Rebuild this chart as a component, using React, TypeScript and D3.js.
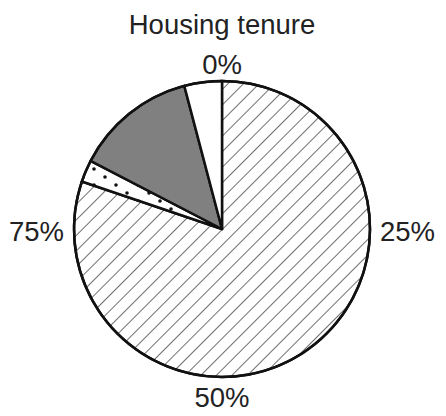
import React, { useRef, useEffect } from 'react';
import * as d3 from 'd3';

// slice shares (percent), clockwise from 12 o'clock
const categories = ['Owned', 'Shared ownership', 'Social rented', 'Private rented'];
const shares = [80.2, 2.4, 13.3, 4.1];
const fills = ['url(#hatch)', 'url(#dots)', '#808080', '#ffffff'];
const tickLabels = ['0%', '25%', '50%', '75%'];
const tickValues = [0, 25, 50, 75];

const App = () => {
    const ref = useRef<SVGSVGElement>(null);

    useEffect(() => {
        const svg = d3.select(ref.current);
        svg.selectAll('*').remove();

        const width = 446;
        const height = 416;
        const cx = 222;
        const cy = 229;
        const r = 148;
        const font = 'Liberation Sans, Arial, sans-serif';

        const defs = svg.append('defs');
        // diagonal hatch
        const hatch = defs.append('pattern')
            .attr('id', 'hatch')
            .attr('patternUnits', 'userSpaceOnUse')
            .attr('width', 11)
            .attr('height', 11)
            .attr('patternTransform', 'rotate(45)');
        hatch.append('rect').attr('width', 11).attr('height', 11).attr('fill', '#fff');
        hatch.append('line')
            .attr('x1', 0).attr('y1', 0).attr('x2', 0).attr('y2', 11)
            .attr('stroke', '#222').attr('stroke-width', 1.3);

        // sparse dots
        const dots = defs.append('pattern')
            .attr('id', 'dots')
            .attr('patternUnits', 'userSpaceOnUse')
            .attr('width', 22)
            .attr('height', 16);
        dots.append('rect').attr('width', 22).attr('height', 16).attr('fill', '#fff');
        dots.append('circle').attr('cx', 4).attr('cy', 4).attr('r', 1.8).attr('fill', '#111');
        dots.append('circle').attr('cx', 15).attr('cy', 12).attr('r', 1.8).attr('fill', '#111');

        svg.attr('width', width).attr('height', height);

        // title
        svg.append('text')
            .attr('x', cx)
            .attr('y', 34)
            .attr('text-anchor', 'middle')
            .style('font-family', font)
            .style('font-size', '27.5px')
            .attr('fill', '#222')
            .text('Housing tenure');

        const g = svg.append('g').attr('transform', 'translate(' + cx + ',' + cy + ')');

        const pie = d3.pie<number>().sort(null).value(d => d);
        const arc = d3.arc<d3.PieArcDatum<number>>().innerRadius(0).outerRadius(r);

        g.selectAll('path.slice')
            .data(pie(shares))
            .enter().append('path')
            .attr('class', 'slice')
            .attr('d', arc)
            .attr('fill', (d, i) => fills[i])
            .attr('stroke', '#111')
            .attr('stroke-width', 2.5)
            .attr('stroke-linejoin', 'round')
            .append('title').text((d, i) => categories[i]);

        g.append('circle')
            .attr('r', r)
            .attr('fill', 'none')
            .attr('stroke', '#111')
            .attr('stroke-width', 2.5);

        // angular tick labels
        const angle = d3.scaleLinear().domain([0, 100]).range([0, 2 * Math.PI]);
        const pad = 10;
        tickValues.forEach((v, i) => {
            const a = angle(v);
            const s = Math.sin(a);
            const c = Math.cos(a);
            const x = (r + pad) * s;
            const y = -(r + pad) * c + 11.5 - 8.5 * c;
            g.append('text')
                .attr('x', x)
                .attr('y', y)
                .attr('text-anchor', s > 0.5 ? 'start' : s < -0.5 ? 'end' : 'middle')
                .style('font-family', font)
                .style('font-size', '27.5px')
                .attr('fill', '#222')
                .text(tickLabels[i]);
        });
    }, []);

    return <svg ref={ref} style={{ position: 'absolute', left: 0, top: 0 }}></svg>;
};

export default App;
